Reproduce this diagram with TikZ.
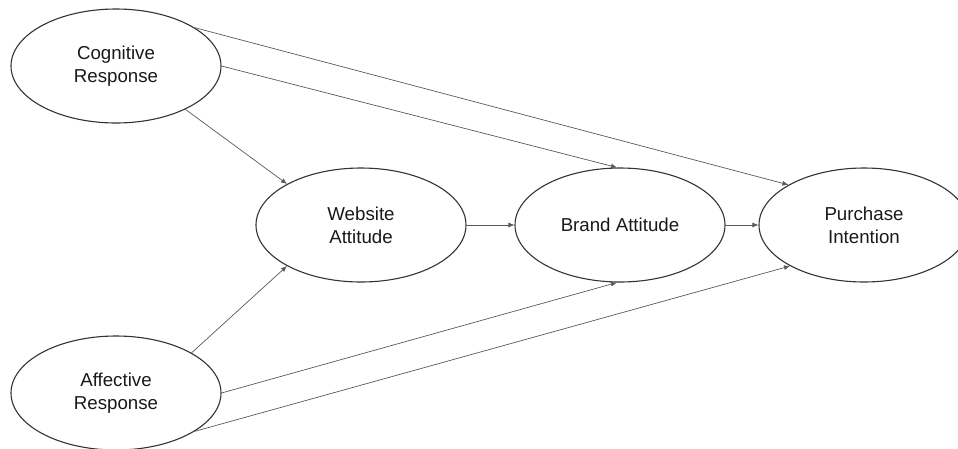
\documentclass[tikz,border=0pt]{standalone}
\usepackage{fontspec}
\setmainfont{Liberation Sans}
\usetikzlibrary{shapes.geometric,arrows.meta}
\begin{document}
\begin{tikzpicture}[x=1pt,y=-1pt,
  construct/.style={ellipse,draw=black!80,line width=1.1pt,minimum width=210pt,minimum height=114pt,inner sep=0pt,align=center,font=\fontsize{18.7}{23}\selectfont,text=black!90},
  path/.style={draw=black!65,line width=0.7pt,-{Latex[length=6pt,width=5pt]}}]
\useasboundingbox (0,0) rectangle (958,448);
\node[construct] (cog) at (116,66) {Cognitive\\Response};
\node[construct] (aff) at (116,393) {Affective\\Response};
\node[construct] (web) at (361,225) {Website\\Attitude};
\node[construct] (brand) at (620,225) {Brand Attitude};
\node[construct] (pur) at (864,225) {Purchase\\Intention};
\draw[path] (cog.-32.5) -- (web.151.6);
\draw[path] (cog.0) -- (brand.93);
\draw[path] (cog.26.9) -- (pur.152.2);
\draw[path] (aff.28) -- (web.-151.6);
\draw[path] (aff.0) -- (brand.267);
\draw[path] (aff.-26.9) -- (pur.-151.6);
\draw[path] (web.east) -- (brand.west);
\draw[path] (brand.east) -- (pur.west);
\end{tikzpicture}
\end{document}
